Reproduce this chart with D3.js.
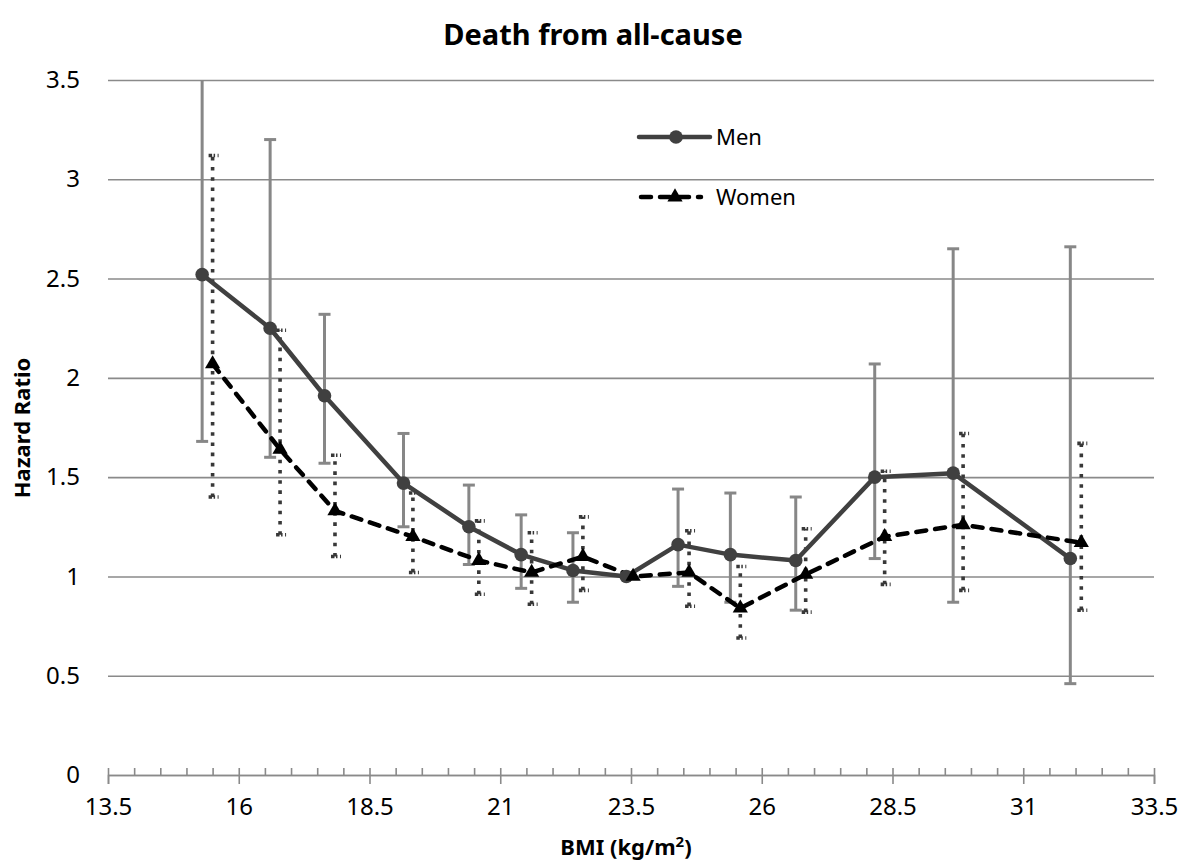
<!DOCTYPE html>
<html>
<head>
<meta charset="utf-8">
<script src="https://cdn.jsdelivr.net/npm/d3@7"></script>
<style>
  body { margin: 0; background: #fff; }
  svg, svg text { font-family: "Noto Sans", "DejaVu Sans", sans-serif; }
</style>
</head>
<body>
<svg id="chart" width="1187" height="865"></svg>
<script>
// Death from all-cause - hazard ratio by BMI group, men vs women

// 1) Data
var menBmi   = [15.3, 16.6, 17.64, 19.15, 20.4, 21.4, 22.39, 23.41, 24.4, 25.4, 26.65, 28.16, 29.66, 31.9];
var menHr    = [2.52, 2.25, 1.91, 1.47, 1.25, 1.11, 1.03, 1.0, 1.16, 1.11, 1.08, 1.50, 1.52, 1.09];
var menLo    = [1.68, 1.60, 1.57, 1.25, 1.06, 0.94, 0.87, null, 0.95, 0.87, 0.83, 1.09, 0.87, 0.46];
var menHi    = [3.70, 3.20, 2.32, 1.72, 1.46, 1.31, 1.22, null, 1.44, 1.42, 1.40, 2.07, 2.65, 2.66];

var womenBmi = [15.5, 16.79, 17.84, 19.33, 20.59, 21.6, 22.58, 23.54, 24.61, 25.59, 26.84, 28.35, 29.85, 32.11];
var womenHr  = [2.07, 1.64, 1.33, 1.20, 1.08, 1.02, 1.10, 1.0, 1.02, 0.84, 1.01, 1.20, 1.26, 1.17];
var womenLo  = [1.40, 1.21, 1.10, 1.02, 0.91, 0.86, 0.93, null, 0.85, 0.69, 0.82, 0.96, 0.93, 0.83];
var womenHi  = [3.12, 2.24, 1.61, 1.42, 1.28, 1.22, 1.30, null, 1.23, 1.05, 1.24, 1.53, 1.72, 1.67];

var xTicks = [13.5, 16, 18.5, 21, 23.5, 26, 28.5, 31, 33.5];
var xMinorStep = 0.5;
var yTicks = [0, 0.5, 1, 1.5, 2, 2.5, 3, 3.5];

var seriesNames = ["Men", "Women"];

// 2) Layout
var svg = d3.select("#chart");
var plotLeft = 108, plotRight = 1154, plotTop = 80, plotBottom = 775;
var gridColor = "#8a8a8a";
var font = '"Noto Sans", "DejaVu Sans", sans-serif';

var x = d3.scaleLinear().domain([13.5, 33.5]).range([plotLeft, plotRight]);
var y = d3.scaleLinear().domain([0, 3.5]).range([plotBottom, plotTop]);

var xMinorTicks = d3.range(13.5, 33.5 + 0.001, xMinorStep);

svg.append("defs").append("clipPath").attr("id", "plotClip")
  .append("rect").attr("x", plotLeft - 20).attr("y", plotTop)
  .attr("width", plotRight - plotLeft + 40).attr("height", plotBottom - plotTop + 20);

// gridlines + y labels
var yAxis = svg.append("g")
  .attr("transform", "translate(" + plotLeft + ",0)")
  .call(d3.axisLeft(y).tickValues(yTicks).tickSize(-(plotRight - plotLeft)).tickPadding(28)
        .tickFormat(function (d) { return String(d); }));
yAxis.attr("font-family", font).attr("font-size", 24);
yAxis.select(".domain").remove();
yAxis.selectAll("line").attr("stroke", gridColor).attr("stroke-width", 1.6);
yAxis.selectAll("text").attr("fill", "#000");

// x axis: major ticks crossing below, minor ticks above
var xAxis = svg.append("g")
  .attr("transform", "translate(0," + plotBottom + ")")
  .call(d3.axisBottom(x).tickValues(xTicks).tickSize(9).tickPadding(14)
        .tickFormat(function (d) { return String(d); }));
xAxis.attr("font-family", font).attr("font-size", 24);
xAxis.select(".domain").attr("stroke", gridColor).attr("stroke-width", 1.6);
xAxis.selectAll("line").attr("stroke", gridColor).attr("stroke-width", 1.6);
xAxis.selectAll("text").attr("fill", "#000");

var xMinor = svg.append("g")
  .attr("transform", "translate(0," + plotBottom + ")")
  .call(d3.axisTop(x).tickValues(xMinorTicks).tickSize(7).tickFormat(""));
xMinor.select(".domain").remove();
xMinor.selectAll("line").attr("stroke", gridColor).attr("stroke-width", 1.6);

// 3) Series
var men = menBmi.map(function (b, i) { return { x: b, y: menHr[i], lo: menLo[i], hi: menHi[i] }; });
var women = womenBmi.map(function (b, i) { return { x: b, y: womenHr[i], lo: womenLo[i], hi: womenHi[i] }; });

var plot = svg.append("g").attr("clip-path", "url(#plotClip)");

// men error bars - solid grey
var menBars = plot.append("g").selectAll("g").data(men.filter(function (d) { return d.lo != null; }))
  .enter().append("g").attr("stroke", "#878787").attr("stroke-width", 3);
menBars.append("line")
  .attr("x1", function (d) { return x(d.x); }).attr("x2", function (d) { return x(d.x); })
  .attr("y1", function (d) { return y(d.lo); }).attr("y2", function (d) { return y(d.hi); });
menBars.append("line")
  .attr("x1", function (d) { return x(d.x) - 6; }).attr("x2", function (d) { return x(d.x) + 6; })
  .attr("y1", function (d) { return y(d.lo); }).attr("y2", function (d) { return y(d.lo); });
menBars.append("line")
  .attr("x1", function (d) { return x(d.x) - 6; }).attr("x2", function (d) { return x(d.x) + 6; })
  .attr("y1", function (d) { return y(d.hi); }).attr("y2", function (d) { return y(d.hi); });

// women error bars - dotted dark grey
var womenBars = plot.append("g").selectAll("g").data(women.filter(function (d) { return d.lo != null; }))
  .enter().append("g").attr("stroke", "#383838").attr("stroke-width", 3.6);
womenBars.append("line")
  .attr("stroke-dasharray", "3.6,6.6")
  .attr("x1", function (d) { return x(d.x); }).attr("x2", function (d) { return x(d.x); })
  .attr("y1", function (d) { return y(d.lo); }).attr("y2", function (d) { return y(d.hi); });
womenBars.append("line")
  .attr("stroke-dasharray", "3.5,1.5,1.5,2.5,1.2")
  .attr("x1", function (d) { return x(d.x) - 4; }).attr("x2", function (d) { return x(d.x) + 6; })
  .attr("y1", function (d) { return y(d.lo); }).attr("y2", function (d) { return y(d.lo); });
womenBars.append("line")
  .attr("stroke-dasharray", "3.5,1.5,1.5,2.5,1.2")
  .attr("x1", function (d) { return x(d.x) - 4; }).attr("x2", function (d) { return x(d.x) + 6; })
  .attr("y1", function (d) { return y(d.hi); }).attr("y2", function (d) { return y(d.hi); });

var line = d3.line().x(function (d) { return x(d.x); }).y(function (d) { return y(d.y); });

plot.append("path").datum(men)
  .attr("d", line).attr("fill", "none").attr("stroke", "#404040").attr("stroke-width", 4.5)
  .attr("stroke-linejoin", "round");
plot.append("path").datum(women)
  .attr("d", line).attr("fill", "none").attr("stroke", "#000").attr("stroke-width", 4.5)
  .attr("stroke-dasharray", "10,9").attr("stroke-linecap", "round");

plot.append("g").selectAll("circle").data(men).enter().append("circle")
  .attr("cx", function (d) { return x(d.x); }).attr("cy", function (d) { return y(d.y); })
  .attr("r", 6.8).attr("fill", "#404040");

var tri = d3.symbol().type(d3.symbolTriangle).size(100);
plot.append("g").selectAll("path").data(women).enter().append("path")
  .attr("d", tri)
  .attr("transform", function (d) { return "translate(" + x(d.x) + "," + y(d.y) + ")"; })
  .attr("fill", "#000");

// 4) Legend
var legend = svg.append("g").attr("font-size", 22);
legend.append("line").attr("x1", 639).attr("x2", 710).attr("y1", 137).attr("y2", 137)
  .attr("stroke", "#404040").attr("stroke-width", 4.5).attr("stroke-linecap", "round");
legend.append("circle").attr("cx", 676).attr("cy", 137).attr("r", 6.8).attr("fill", "#404040");
legend.append("text").attr("x", 716).attr("y", 145).text(seriesNames[0]);

legend.append("line").attr("x1", 641).attr("x2", 701).attr("y1", 197).attr("y2", 197)
  .attr("stroke", "#000").attr("stroke-width", 4.5).attr("stroke-dasharray", "10,9")
  .attr("stroke-linecap", "round");
legend.append("path").attr("d", tri).attr("transform", "translate(675,197)").attr("fill", "#000");
legend.append("text").attr("x", 716).attr("y", 205).text(seriesNames[1]);

// 5) Titles
svg.append("text").attr("x", 593).attr("y", 45).attr("text-anchor", "middle")
  .attr("font-size", 29).attr("font-weight", "bold").text("Death from all-cause");

var xt = svg.append("text").attr("x", 626).attr("y", 855).attr("text-anchor", "middle")
  .attr("font-size", 22).attr("font-weight", "bold");
xt.append("tspan").text("BMI (kg/m");
xt.append("tspan").attr("font-size", 15).attr("dy", -8).text("2");
xt.append("tspan").attr("dy", 8).text(")");

svg.append("text").attr("transform", "translate(30,428) rotate(-90)").attr("text-anchor", "middle")
  .attr("font-size", 22).attr("font-weight", "bold").text("Hazard Ratio");
</script>
</body>
</html>
